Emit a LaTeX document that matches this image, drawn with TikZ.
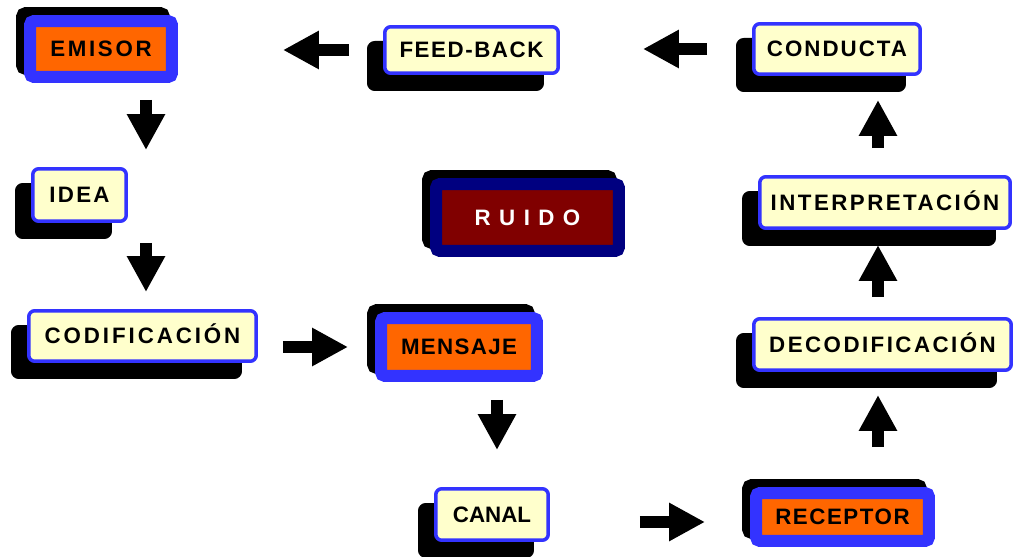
\documentclass[tikz,border=0pt]{standalone}
\usepackage{fontspec}
\setmainfont{Liberation Sans}
\usetikzlibrary{arrows.meta,calc}
\definecolor{ringblue}{RGB}{51,51,255}
\definecolor{paleyellow}{RGB}{255,255,204}
\definecolor{boxorange}{RGB}{255,102,0}
\definecolor{ruidonavy}{RGB}{0,0,128}
\definecolor{ruidored}{RGB}{128,0,0}
\newcommand{\labelfont}{\fontsize{12.7}{15}\selectfont\bfseries}

\begin{document}
\begin{tikzpicture}[x=0.02cm,y=-0.02cm,
    ybox/.style={draw=ringblue, fill=paleyellow, line width=0.07cm, rounded corners=0.12cm,
      inner sep=0pt, text height=9.1pt, text depth=0pt,
      preaction={draw=black, fill=black, line width=0.07cm,
        transform canvas={xshift=-0.32cm, yshift=-0.32cm}}},
    obox/.style={draw=ringblue, fill=boxorange, line width=0.24cm, rounded corners=0.08cm,
      inner sep=0pt, text height=9.1pt, text depth=0pt,
      preaction={draw=black, fill=black, line width=0.24cm,
        transform canvas={xshift=-0.16cm, yshift=0.16cm}}},
    ls/.style={font=\labelfont\addfontfeature{LetterSpace=#1}},
    blk/.style={line width=0.24cm, -{Triangle[length=0.72cm, width=0.72cm]}}]
  \useasboundingbox (0,0) rectangle (1015,557);

  \node[obox, ls=12, minimum width=2.84cm, minimum height=1.12cm] (emisor) at (101,49) {EMISOR};
  \node[ybox, ls=7, minimum width=3.47cm, minimum height=0.93cm] (feedback) at (471.5,50) {FEED-BACK};
  \node[ybox, ls=9, minimum width=3.33cm, minimum height=1.01cm] (conducta) at (837,49) {CONDUCTA};
  \node[ybox, ls=10, minimum width=1.87cm, minimum height=1.05cm] (idea) at (79.5,195) {IDEA};
  \node[obox, draw=ruidonavy, fill=ruidored, text=white, ls=10,
        minimum width=3.66cm, minimum height=1.34cm] (ruido) at (527.5,217.5) {R U I D O};
  \node[ybox, ls=11, minimum width=5.01cm, minimum height=1.03cm] (interp) at (885,202.5) {INTERPRETACIÓN};
  \node[ybox, ls=13, minimum width=4.55cm, minimum height=1.01cm] (codif) at (142.5,336) {CODIFICACIÓN};
  \node[obox, ls=6, minimum width=3.12cm, minimum height=1.16cm] (mensaje) at (459,347) {MENSAJE};
  \node[ybox, ls=11, minimum width=5.15cm, minimum height=1.03cm] (decod) at (882.5,344.5) {DECODIFICACIÓN};
  \node[ybox, ls=0, minimum width=2.25cm, minimum height=1.03cm] (canal) at (492,514.5) {CANAL};
  \node[obox, ls=7, minimum width=3.46cm, minimum height=0.96cm] (receptor) at (842.5,517) {RECEPTOR};

  \draw[blk, shorten <=0.9cm, shorten >=1.66cm] (conducta.west) -- (conducta.west -| feedback.east);
  \draw[blk, shorten <=0.68cm, shorten >=2.1cm] (feedback.west) -- (feedback.west -| emisor.east);
  \draw[blk, shorten <=0.34cm, shorten >=0.34cm] ($(emisor.south)+(45,0)$) -- ($(emisor.south |- idea.north)+(45,0)$);
  \draw[blk, shorten <=0.4cm, shorten >=0.34cm] ($(idea.south)+(66.5,0)$) -- ($(idea.south |- codif.north)+(66.5,0)$);
  \draw[blk, shorten <=0.5cm, shorten >=0.54cm] (codif.east |- mensaje.west) -- (mensaje.west);
  \draw[blk, shorten <=0.36cm, shorten >=0.74cm] ($(canal.north |- mensaje.south)+(5,0)$) -- ($(canal.north)+(5,0)$);
  \draw[blk, shorten <=1.8cm, shorten >=0.9cm] ($(receptor.west -| canal.east)+(0,5)$) -- ($(receptor.west)+(0,5)$);
  \draw[blk, shorten <=0.8cm, shorten >=0.46cm] ($(decod.south |- receptor.north)+(-4.5,0)$) -- ($(decod.south)+(-4.5,0)$);
  \draw[blk, shorten <=0.4cm, shorten >=0.3cm] ($(decod.north)+(-4.5,0)$) -- ($(decod.north |- interp.south)+(-4.5,0)$);
  \draw[blk, shorten <=0.54cm, shorten >=0.48cm] ($(interp.north)+(-7,0)$) -- ($(interp.north |- conducta.south)+(-7,0)$);
\end{tikzpicture}
\end{document}
